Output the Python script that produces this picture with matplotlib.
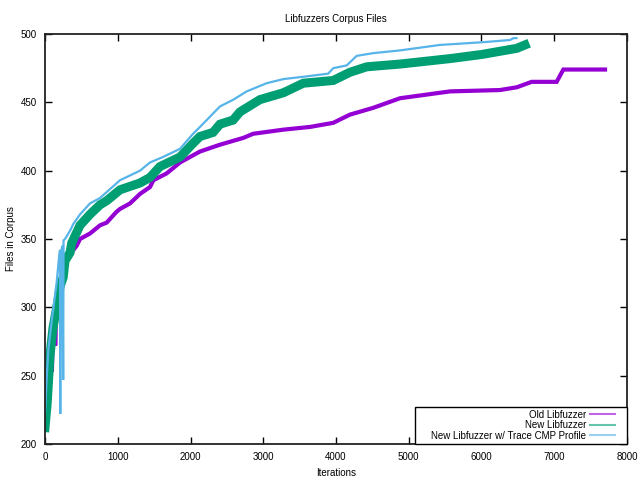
import numpy as np
import matplotlib
matplotlib.use('Agg')
import matplotlib.pyplot as plt
from matplotlib.lines import Line2D
from matplotlib.patches import Rectangle

plt.rcParams['font.family'] = ['Liberation Sans', 'DejaVu Sans']
plt.rcParams['font.size'] = 7

# Old Libfuzzer
old_x = [0, 20, 40, 60, 80, 92, 95, 110, 137, 140, 150, 180, 250, 316, 435, 481, 618, 756, 848,
         985, 1031, 1168, 1306, 1443, 1490, 1672, 1856, 2130, 2405, 2727, 2862, 3276, 3643,
         3962, 4192, 4513, 4880, 5567, 6254, 6484, 6690, 7033, 7125, 7698]
old_y = [212, 222, 245, 262, 275, 283, 253, 290, 297, 272, 300, 312, 325, 337, 345, 350, 354, 360, 362,
         370, 372, 376, 383, 388, 393, 398, 406, 414, 419, 424, 427, 430, 432,
         435, 441, 446, 453, 458, 459, 461, 465, 465, 474, 474]

# New Libfuzzer
new_x = [0, 30, 69, 110, 137, 179, 206, 250, 275, 344, 367, 481, 618, 756, 848, 1031, 1306,
         1443, 1580, 1856, 2035, 2130, 2310, 2405, 2585, 2680, 2955, 3276, 3551, 3962, 4192,
         4422, 4880, 5567, 6000, 6484, 6598]
new_y = [212, 230, 265, 285, 293, 305, 315, 322, 334, 340, 347, 360, 368, 375, 378, 386, 391,
         395, 403, 410, 420, 425, 428, 434, 437, 443, 452, 457, 464, 466, 472,
         476, 478, 482, 485, 489.5, 492]

# New Libfuzzer w/ Trace CMP Profile
cmp_x = [0, 20, 46, 92, 160, 190, 206, 210, 215, 240, 250, 255, 275, 344, 389, 481, 618, 756,
         1031, 1306, 1443, 1622, 1856, 2035, 2130, 2222, 2405, 2590, 2772, 3047, 3276, 3597,
         3893, 3962, 4147, 4284, 4513, 4880, 5430, 6020, 6392, 6440, 6480]
cmp_y = [222, 245, 269, 290, 318, 335, 342, 222, 340, 345, 247, 349, 350, 356, 361, 368, 376, 380,
         393, 400, 406, 410, 416, 427, 432, 437, 447, 452, 458, 464, 467, 469,
         471, 475, 477, 484, 486, 488, 492, 494, 495.6, 497, 497]

labels = ['Old Libfuzzer', 'New Libfuzzer', 'New Libfuzzer w/ Trace CMP Profile']
c = ['#9400d3', '#009e73', '#56b4e9']

fig = plt.figure(figsize=(6.4, 4.8), dpi=100)
ax = fig.add_axes([45/640, 36/480, 582/640, 410/480])

ax.plot(old_x, old_y, color=c[0], lw=3.0, solid_joinstyle='miter')
ax.plot(new_x, new_y, color=c[1], lw=6.5, solid_joinstyle='miter')
ax.plot(cmp_x, cmp_y, color=c[2], lw=1.6, solid_joinstyle='miter')

ax.set_xlim(0, 8000)
ax.set_ylim(200, 500)
ax.set_xticks(np.arange(0, 8001, 1000))
ax.set_yticks(np.arange(200, 501, 50))
ax.tick_params(direction='in', length=5, width=1, top=True, right=True, pad=6, labelsize=7)
for s in ax.spines.values():
    s.set_linewidth(1.3)
    s.set_color('#222222')

ax.set_title('Libfuzzers Corpus Files', fontsize=7, pad=9)
ax.set_xlabel('Iterations', fontsize=7, labelpad=4)
ax.set_ylabel('Files in Corpus', fontsize=7, labelpad=3)

# gnuplot-like key box
ax.add_patch(Rectangle((370/582, 0), 212/582, 37/410, transform=ax.transAxes,
                       facecolor='white', edgecolor='black', lw=1.0, zorder=4.5, clip_on=False))
handles = [Line2D([], [], color=c[i], lw=1.5, alpha=0.6) for i in range(3)]
leg = ax.legend(handles, labels, loc='lower right', bbox_to_anchor=(570/582, 0.008),
                markerfirst=False, fontsize=7, frameon=False, borderaxespad=0, borderpad=0,
                handlelength=2.6, handletextpad=0.35, labelspacing=0.05)

plt.savefig('out.png', dpi=100)
